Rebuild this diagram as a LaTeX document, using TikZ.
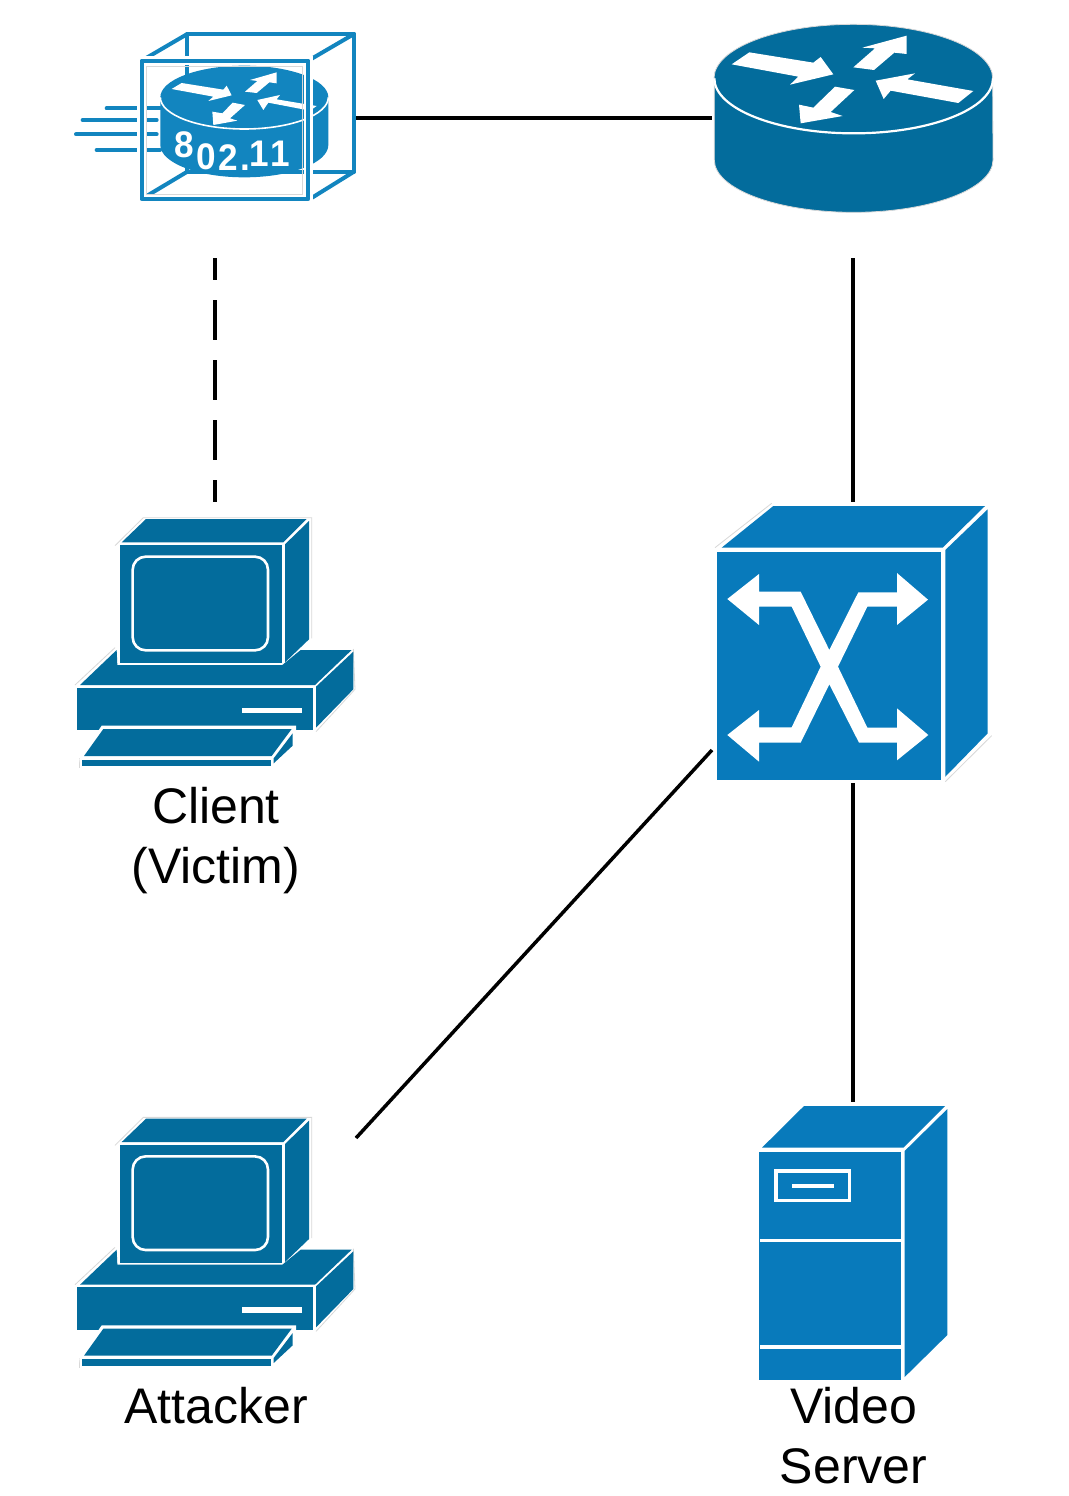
\documentclass[tikz,border=0pt]{standalone}
\usepackage{fontspec}
\setmainfont{Liberation Sans}
\definecolor{routerblue}{HTML}{036C9C}
\definecolor{switchblue}{HTML}{087ABB}
\definecolor{wapblue}{HTML}{1285BF}
\definecolor{halo}{HTML}{D8D8D8}
\tikzset{
  link/.style={draw=black,line width=3.5pt},
  faint/.style={draw=halo,line width=.8pt},
  whiteline/.style={draw=white,line width=2.6pt},
  label/.style={align=center,font=\fontsize{50}{60}\selectfont,inner sep=0pt},
  digit/.style={anchor=base,text=white,inner sep=0pt,xscale=.95,font=\fontsize{37}{37}\selectfont\bfseries},
  zoomed/.style={x=.33333pt,y=-.33333pt},
  wapline/.style={draw=wapblue,line width=4pt,line cap=round,line join=round},
}
\newcommand{\drawcomputer}{%
  \draw[faint] (165,122)--(250,38)--(755,38)--(755,400);
  \draw[faint] (45,540)--(165,428);
  \draw[faint] (880,432)--(885,553)--(768,680);
  \draw[faint] (58,760)--(58,790);
  \fill[routerblue] (185,112)--(258,42)--(740,42)--(670,112)--cycle;
  \fill[routerblue] (675,118)--(747,48)--(747,403)--(675,472)--cycle;
  \fill[routerblue] (180,120) rectangle (667,474);
  \draw[whiteline,fill=routerblue,rounded corners=13pt] (218,155) rectangle (624,436);
  \fill[routerblue] (60,540)--(170,435)--(172,480)--(667,480)--(722,435)--(875,435)--(765,540)--cycle;
  \fill[routerblue] (52,548) rectangle (760,675);
  \fill[routerblue] (768,545)--(880,440)--(880,553)--(768,668)--cycle;
  \fill[white] (545,608) rectangle (725,625);
  \fill[white] (58,762)--(125,662)--(708,662)--(708,722)--(640,788)--(62,788)--cycle;
  \fill[routerblue] (72,753)--(130,672)--(695,672)--(635,753)--cycle;
  \fill[routerblue] (66,764) rectangle (632,783);
  \fill[routerblue] (641,760)--(698,685)--(698,722)--(641,775)--cycle;
}
\begin{document}
\begin{tikzpicture}[x=1pt,y=-1pt]
\useasboundingbox (0,0) rectangle (1068,1496);
\fill[white] (0,0) rectangle (1068,1496);

% connector end points
\coordinate (wapE) at (356,118);
\coordinate (wapS) at (215,258);
\coordinate (routerW) at (712,118);
\coordinate (routerS) at (853,258);
\coordinate (clientN) at (215,502);
\coordinate (switchN) at (853,502);
\coordinate (switchS) at (853,783);
\coordinate (switchW) at (712,750);
\coordinate (attackerNE) at (356,1138);
\coordinate (serverN) at (853,1102);

\draw[link] (wapE) -- (routerW);
\draw[link] (routerS) -- (switchN);
\draw[link] (switchS) -- (serverN);
\draw[link] (attackerNE) -- (switchW);
\draw[link,line width=4pt,dash pattern=on 40pt off 20pt,dash phase=18pt] (wapS) -- (clientN);

% wireless access point
\begin{scope}[shift={(60,20)},zoomed]
  \foreach \xa/\xb/\yy in {140/300/265,68/290/300,48/290/343,110/300/390}
    \draw[wapline] (\xa,\yy) -- (\xb,\yy);
  \draw[wapline] (382,42) rectangle (882,455);
  \draw[wapline] (245,122)--(382,42);
  \draw[wapline] (745,122)--(882,42);
  \draw[wapline] (745,540)--(882,455);
  \draw[wapline] (245,537)--(382,455);
  \fill[wapblue] (301,232)--(301,375) arc[start angle=180,end angle=0,x radius=252,y radius=97]
    --(805,232) arc[start angle=0,end angle=-180,x radius=252,y radius=95]--cycle;
  \draw[draw=white,line width=1.6pt] (301,232) arc[start angle=180,end angle=0,x radius=252,y radius=95];
  \fill[white] (335,207)--(365,189)--(490,209)--(500,197)--(515,226)--(445,243)--(460,230)--cycle;
  \fill[white] (555,215)--(592,183)--(570,180)--(650,157)--(650,190)--(628,187)--(590,219)--cycle;
  \fill[white] (770,258)--(750,272)--(625,248)--(610,270)--(592,240)--(660,225)--(650,238)--cycle;
  \fill[white] (555,255)--(518,248)--(487,280)--(457,275)--(460,315)--(532,302)--(510,295)--cycle;
  \draw[draw=white,line width=26*.33333pt,line join=miter] (245,122) rectangle (745,537);
  \draw[faint] (258,138) rectangle (727,523);
  \draw[wapline] (245,122) rectangle (745,537);
\end{scope}
\node[digit] (d1) at (184,157) {8};
\node[digit] (d2) at (206,169.5) {0};
\node[digit] (d3) at (228,170) {2};
\node[digit] (d4) at (245,170) {.};
\node[digit] (d5) at (259,166) {1};
\node[digit] (d6) at (280,166) {1};

% router
\begin{scope}[shift={(700,10)},zoomed]
  \draw[faint,fill=routerblue] (43,205)--(43,450) arc[start angle=180,end angle=0,x radius=418,y radius=157]
    --(878,205) arc[start angle=0,end angle=-180,x radius=418,y radius=162]--cycle;
  \draw[draw=white,line width=2.2pt] (43,205) arc[start angle=180,end angle=0,x radius=418,y radius=165];
  \fill[white] (95,163)--(148,127)--(340,158)--(362,141)--(400,193)--(270,224)--(295,200)--cycle;
  \fill[white] (460,172)--(525,115)--(487,113)--(620,77)--(620,132)--(583,128)--(522,180)--cycle;
  \fill[white] (820,243)--(775,279)--(572,242)--(551,267)--(527,212)--(645,190)--(622,208)--cycle;
  \fill[white] (463,240)--(405,230)--(340,293)--(297,284)--(302,340)--(428,318)--(392,306)--cycle;
\end{scope}

% client
\begin{scope}[shift={(60,505)},zoomed]
  \drawcomputer
\end{scope}
% attacker
\begin{scope}[shift={(60,1104.7)},zoomed]
  \drawcomputer
\end{scope}

% switch
\begin{scope}[shift={(700,495)},zoomed]
  \draw[faint] (45,158)--(215,25);
  \draw[faint] (736,860)--(875,722);
  \fill[switchblue] (65,158)--(220,33)--(855,33)--(728,158)--cycle;
  \fill[switchblue] (736,165)--(863,43)--(863,715)--(736,845)--cycle;
  \fill[switchblue] (52,172) rectangle (723,855);
  \fill[white] (82,312)--(177,237)--(177,290)--(302,290)--(388,465)--(475,292)--(591,292)--(591,234)--(684,314)--(591,390)--(591,335)--(502,335)--(414,515)--(502,698)--(591,698)--(591,640)--(685,720)--(591,796)--(591,743)--(477,743)--(388,568)--(302,743)--(177,743)--(177,800)--(82,720)--(177,645)--(177,697)--(275,697)--(362,515)--(275,335)--(177,335)--(177,390)--cycle;
\end{scope}

% video server
\begin{scope}[shift={(740,1095)},zoomed]
  \fill[switchblue] (66,158)--(192,33)--(615,33)--(490,158)--cycle;
  \fill[switchblue] (494,168)--(622,42)--(622,720)--(494,846)--cycle;
  \fill[switchblue] (56,172) rectangle (484,855);
  \draw[draw=white,line width=3.2pt] (60,437)--(484,437);
  \draw[draw=white,line width=3.2pt] (60,756)--(484,756);
  \draw[draw=white,line width=3.2pt] (108,228) rectangle (328,317);
  \fill[white] (157,268) rectangle (282,280);
\end{scope}

% labels
\node[label] (clientLabel) at (216,841) {Client\\(Victim)};
\node[label] (attackerLabel) at (216,1406) {Attacker};
\node[label] (serverLabel) at (853.5,1436) {Video\\Server};
\end{tikzpicture}
\end{document}
